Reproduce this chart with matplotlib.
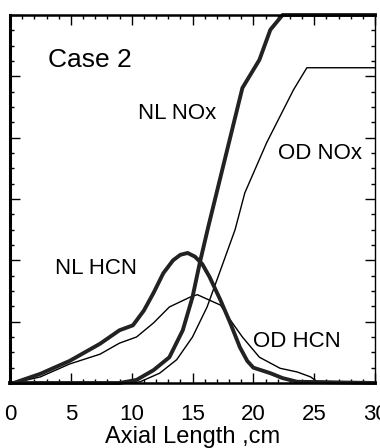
import numpy as np
import matplotlib.pyplot as plt
from matplotlib.ticker import MultipleLocator

plt.rcParams['font.family'] = ['Liberation Sans', 'DejaVu Sans']

# axial position (cm) and relative concentration
nl_nox_x = [0, 9.0, 10.4, 11.8, 13.1, 14.2, 15.0, 15.6, 16.3, 17.7, 19.1, 20.5, 21.4, 22.4, 30]
nl_nox_y = [0, 0, 0.05, 0.21, 0.42, 0.86, 1.40, 1.96, 2.55, 3.68, 4.81, 5.27, 5.76, 6.0, 6.0]

od_nox_x = [0, 10.0, 10.7, 12.3, 13.7, 15.0, 16.2, 17.3, 18.5, 19.3, 21.1, 23.3, 24.4, 30]
od_nox_y = [0, 0, 0.02, 0.16, 0.38, 0.75, 1.24, 1.84, 2.5, 3.1, 3.92, 4.78, 5.14, 5.14]

nl_hcn_x = [0, 0.3, 2.5, 4.9, 7.4, 9.0, 10.1, 11.0, 11.8, 12.6, 13.4, 14.0, 14.6, 15.2, 15.8,
            16.4, 17.3, 18.1, 18.9, 19.5, 20.0, 21.4, 22.4, 23.6, 30]
nl_hcn_y = [0, 0, 0.15, 0.36, 0.64, 0.86, 0.94, 1.18, 1.47, 1.79, 2.0, 2.09, 2.12, 2.06, 1.94,
            1.73, 1.35, 0.98, 0.58, 0.36, 0.25, 0.16, 0.08, 0.02, 0]

od_hcn_x = [0, 0.3, 2.5, 4.9, 7.4, 9.0, 10.4, 11.8, 13.1, 14.8, 15.4, 16.4, 17.3, 18.1,
            19.1, 20.5, 22.2, 23.6, 24.7, 25.2, 30]
od_hcn_y = [0, 0, 0.10, 0.31, 0.47, 0.65, 0.75, 0.98, 1.24, 1.40, 1.44, 1.35, 1.27, 1.03,
            0.75, 0.42, 0.24, 0.18, 0.10, 0.03, 0]

x_ticks = [0, 5, 10, 15, 20, 25, 30]

fig = plt.figure(figsize=(3.8, 4.48), dpi=100)
ax = fig.add_axes([10 / 380, 1 - 383 / 448, 365 / 380, 368 / 448])

ax.plot(od_nox_x, od_nox_y, color='black', lw=1.0, solid_joinstyle='round')
ax.plot(od_hcn_x, od_hcn_y, color='black', lw=1.0, solid_joinstyle='round')
ax.plot(nl_nox_x, nl_nox_y, color='#222222', lw=2.8, solid_joinstyle='round', clip_on=False)
ax.plot(nl_hcn_x, nl_hcn_y, color='#222222', lw=2.8, solid_joinstyle='round', clip_on=False)

ax.text(3.1, 5.27, 'Case 2', fontsize=19, va='center')
ax.text(10.5, 4.4, 'NL NOx', fontsize=16, va='center')
ax.text(22.0, 3.75, 'OD NOx', fontsize=16, va='center')
ax.text(3.7, 1.86, 'NL HCN', fontsize=16, va='center')
ax.text(20.0, 0.67, 'OD HCN', fontsize=16, va='center')

ax.set_xlim(0, 30)
ax.set_ylim(0, 6)
ax.set_xticks(x_ticks)
ax.xaxis.set_minor_locator(MultipleLocator(1))
ax.yaxis.set_major_locator(MultipleLocator(1))
ax.yaxis.set_minor_locator(MultipleLocator(0.25))
ax.tick_params(which='both', direction='in', top=True, right=True, labelleft=False,
               labelsize=16, pad=15, width=1)
ax.tick_params(which='major', length=7)
ax.tick_params(which='minor', length=3)
ax.set_xlabel('Axial Length ,cm', fontsize=17, labelpad=1)

ax.spines['left'].set_linewidth(2.2)
ax.spines['top'].set_linewidth(1.8)
ax.spines['bottom'].set_linewidth(1.8)
ax.spines['right'].set_linewidth(1.0)

fig.savefig('out.png', dpi=100)
